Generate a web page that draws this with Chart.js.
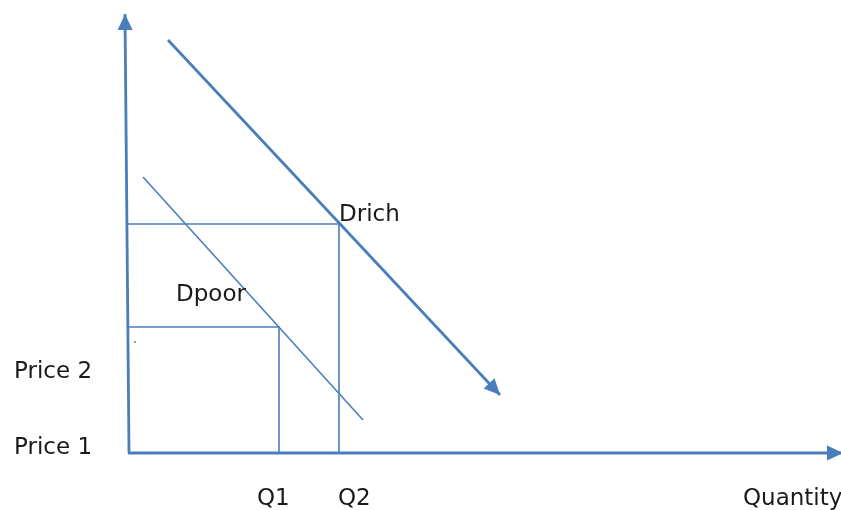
<!DOCTYPE html>
<html>
<head>
<meta charset="utf-8">
<script src="https://cdn.jsdelivr.net/npm/chart.js@4/dist/chart.umd.min.js"></script>
<style>
body{margin:0;background:#fff;}
#chart{display:block;}
</style>
</head>
<body>
<canvas id="chart" width="841" height="510"></canvas>
<script>
// values in quantity / price units, origin where the axes meet
const priceAxis = [{x:0.1,y:0},{x:-0.3,y:43.9}];
const quantityAxis = [{x:0,y:0},{x:71.5,y:0}];
const dRich = [{x:4.0,y:41.3},{x:37.2,y:5.8}];
const dPoor = [{x:1.5,y:27.6},{x:23.5,y:3.3}];
const price2Guide = [{x:0,y:22.9},{x:21.1,y:22.9},{x:21.1,y:0}];
const price1Guide = [{x:0,y:12.6},{x:15.1,y:12.6},{x:15.1,y:0}];
const strayDot = [{x:0.7,y:11.1}];

const labelTexts = ["Drich","Dpoor","Price 2","Price 1","Q1","Q2","Quantity"];
const labelX = [21.1,4.8,-11.4,-11.4,12.9,21.0,61.5];
const labelY = [23.8,15.8,8.1,0.5,-4.6,-4.6,-4.6];

const blue = "#4a7ebb";

document.addEventListener(
"DOMContentLoaded",
function(){
    const chart = document.getElementById("chart");
    if(!chart){
        return;
    }
    const ctx = chart.getContext("2d");

    // arrow heads on the ends of some lines + the free text labels
    const extras = {
        id:"extras",
        afterDatasetsDraw:function(c){
            const g = c.ctx;
            const xs = c.scales.x;
            const ys = c.scales.y;
            c.data.datasets.forEach(function(ds){
                if(!ds.arrow){
                    return;
                }
                const n = ds.data.length;
                const a = ds.data[n-2];
                const b = ds.data[n-1];
                const x1 = xs.getPixelForValue(a.x);
                const y1 = ys.getPixelForValue(a.y);
                const x2 = xs.getPixelForValue(b.x);
                const y2 = ys.getPixelForValue(b.y);
                const ang = Math.atan2(y2-y1,x2-x1);
                const len = 16;
                const half = 7.5;
                g.save();
                g.fillStyle = ds.borderColor;
                g.beginPath();
                g.moveTo(x2,y2);
                g.lineTo(x2-len*Math.cos(ang)+half*Math.sin(ang),y2-len*Math.sin(ang)-half*Math.cos(ang));
                g.lineTo(x2-len*Math.cos(ang)-half*Math.sin(ang),y2-len*Math.sin(ang)+half*Math.cos(ang));
                g.closePath();
                g.fill();
                g.restore();
            });
            g.save();
            g.font = "23px 'DejaVu Sans'";
            g.fillStyle = "#1a1a1a";
            g.textAlign = "left";
            g.textBaseline = "middle";
            labelTexts.forEach(function(t,i){
                g.fillText(t,xs.getPixelForValue(labelX[i]),ys.getPixelForValue(labelY[i]));
            });
            g.restore();
        }
    };

    function seg(data,w,arrow){
        return {
            data:data,
            showLine:true,
            borderColor:blue,
            backgroundColor:blue,
            borderWidth:w,
            pointRadius:0,
            fill:false,
            arrow:arrow
        };
    }

    new Chart(
    ctx,
    {
    type:"scatter",
    data:{
    datasets:[
    seg(priceAxis,2.8,true),
    seg(quantityAxis,2.8,true),
    seg(dRich,2.8,true),
    seg(dPoor,1.6,false),
    seg(price2Guide,1.6,false),
    seg(price1Guide,1.6,false),
    {
    data:strayDot,
    showLine:false,
    pointRadius:1,
    borderWidth:0,
    backgroundColor:blue
    }
    ]
    },
    options:{
    responsive:false,
    animation:false,
    layout:{padding:0,autoPadding:false},
    plugins:{
    legend:{display:false},
    tooltip:{enabled:false}
    },
    scales:{
    x:{type:"linear",min:-12.8,max:71.3,display:false},
    y:{type:"linear",min:-5.7,max:45.3,display:false}
    }
    },
    plugins:[extras]
    }
    );
});
</script>
</body>
</html>
